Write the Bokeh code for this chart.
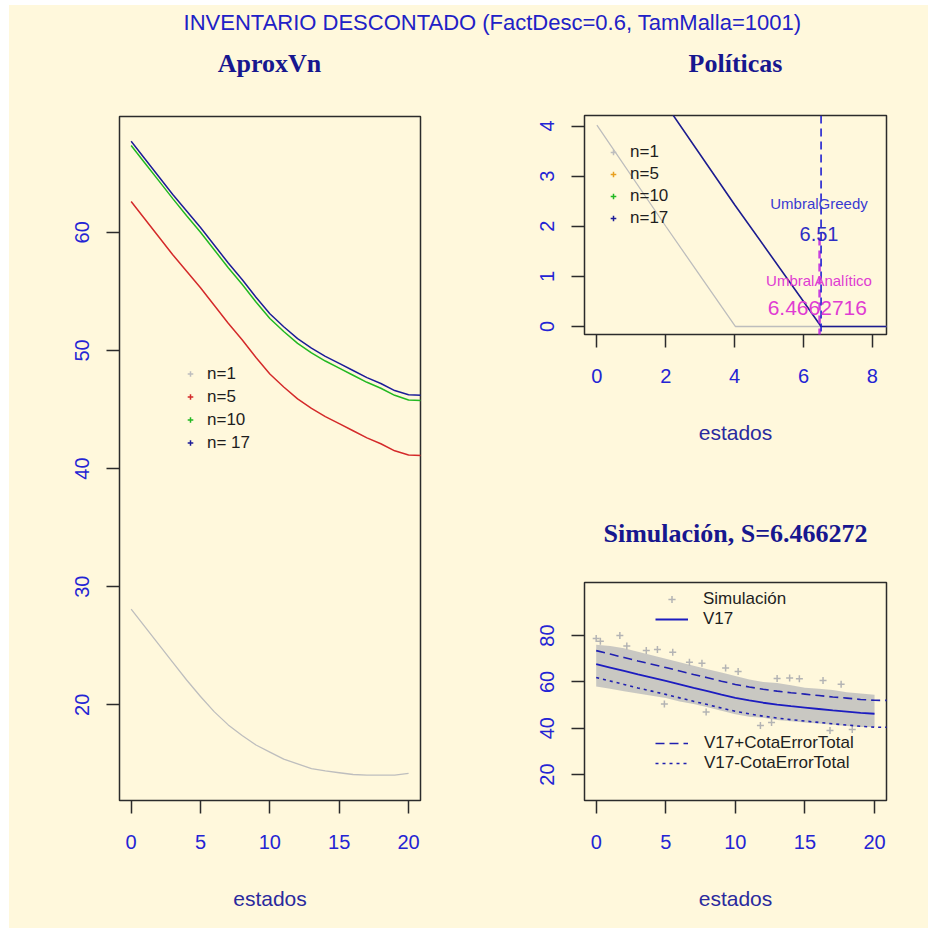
from bokeh.plotting import figure
from bokeh.layouts import row, column
from bokeh.models import (Label, Legend, LegendItem, FixedTicker, Spacer,
                          Range1d, Span)
from bokeh.embed import file_html
from bokeh.resources import INLINE

# ---------------- data ----------------
estados = list(range(22))            # 0..21 grid used for V5/V10/V17
estados_v1 = list(range(21))         # 0..20
v1 = [28.1, 26.6, 25.1, 23.6, 22.1, 20.7, 19.4, 18.3, 17.4, 16.6, 16.0,
      15.4, 15.0, 14.6, 14.4, 14.25, 14.1, 14.05, 14.05, 14.05, 14.2]
v5 = [62.6, 61.1, 59.6, 58.1, 56.7, 55.3, 53.8, 52.3, 50.9, 49.4, 48.0,
      46.9, 45.9, 45.1, 44.4, 43.8, 43.2, 42.6, 42.1, 41.5, 41.15, 41.1]
v10 = [67.35, 65.85, 64.35, 62.85, 61.4, 60.0, 58.5, 57.0, 55.6, 54.1, 52.7,
       51.6, 50.6, 49.8, 49.1, 48.5, 47.9, 47.3, 46.8, 46.2, 45.8, 45.75]
v17 = [67.7, 66.2, 64.7, 63.2, 61.8, 60.4, 58.9, 57.4, 56.0, 54.5, 53.1,
       52.0, 51.0, 50.2, 49.5, 48.9, 48.3, 47.7, 47.2, 46.6, 46.25, 46.2]

# policies
pol1_x = [0.0, 2.0, 4.02, 8.6]
pol1_y = [4.02, 2.0, 0.0, 0.0]
pol17_x = [0.0, 2.0, 4.0, 6.0, 6.51, 8.6]
pol17_y = [6.45, 4.43, 2.43, 0.5, 0.0, 0.0]
umbral_greedy = 6.51
umbral_analitico = 6.4662716
analitico_seg_y = [-0.2, 1.8]

# simulation (dense band envelope + scattered outliers)
sim_x = list(range(21))
sim_upper = [76.0, 75.5, 74.5, 73.0, 71.5, 70.0, 68.5, 67.0, 65.5, 64.0, 62.5,
             61.0, 60.0, 59.5, 58.5, 57.5, 57.0, 56.5, 55.5, 55.0, 54.5]
sim_lower = [58.0, 57.0, 56.0, 55.0, 54.0, 53.0, 51.5, 50.5, 49.0, 47.5, 46.0,
             45.0, 44.5, 43.5, 43.0, 42.5, 42.0, 41.5, 41.0, 40.5, 40.5]
out_x = [0.0, 0.3, 1.7, 2.2, 3.6, 4.4, 5.5, 6.7, 7.6, 9.3, 10.2, 13.0, 13.9,
         14.6, 16.3, 17.6, 4.9, 7.9, 11.8, 12.6, 16.8, 18.4]
out_y = [78.7, 77.5, 80.0, 75.5, 73.5, 74.0, 72.8, 68.5, 68.0, 66.0, 64.5,
         61.5, 61.7, 61.3, 60.6, 59.0, 50.5, 47.0, 41.2, 42.5, 39.0, 39.5]
cota_error_total = 5.8

ticks_x_vn = [0, 5, 10, 15, 20]
ticks_y_vn = [20, 30, 40, 50, 60]
ticks_x_pol = [0, 2, 4, 6, 8]
ticks_y_pol = [0, 1, 2, 3, 4]
ticks_y_sim = [20, 40, 60, 80]

# ---------------- styles ----------------
BG = "#FFF8DC"
TICK_COL = "#2424d4"
AXLAB_COL = "#2a2a9e"
TITLE_COL = "#17178f"
SANS = "Liberation Sans"
SERIF = "Liberation Serif"


def style(p, xt, yt, xlabel=None):
    p.background_fill_color = BG
    p.border_fill_color = BG
    p.outline_line_color = "#2b2b2b"
    p.outline_line_width = 1.5
    p.xgrid.visible = False
    p.ygrid.visible = False
    p.xaxis.ticker = FixedTicker(ticks=xt)
    p.yaxis.ticker = FixedTicker(ticks=yt)
    p.axis.axis_line_color = None
    p.axis.major_tick_line_color = "#2b2b2b"
    p.axis.major_tick_line_width = 1.5
    p.axis.major_tick_out = 13
    p.axis.major_tick_in = 0
    p.axis.minor_tick_line_color = None
    p.axis.major_label_text_font = SANS
    p.axis.major_label_text_font_size = "20px"
    p.axis.major_label_text_color = TICK_COL
    p.xaxis.major_label_standoff = 21
    p.yaxis.major_label_standoff = 17
    p.yaxis.major_label_orientation = "vertical"
    if xlabel:
        p.xaxis.axis_label = xlabel
        p.xaxis.axis_label_text_font = SANS
        p.xaxis.axis_label_text_font_size = "21px"
        p.xaxis.axis_label_text_font_style = "normal"
        p.xaxis.axis_label_text_color = AXLAB_COL
        p.xaxis.axis_label_standoff = 35


def panel_title(p, x, y, text):
    p.add_layout(Label(x=x, y=y, x_units="screen", y_units="screen", text=text,
                       text_font=SERIF, text_font_size="26px",
                       text_font_style="bold", text_color=TITLE_COL,
                       text_align="center", text_baseline="middle"))


def legend(items, loc, gw, gh, standoff):
    return Legend(items=items, location=loc, border_line_color=None,
                  background_fill_alpha=0, padding=0, margin=0, spacing=0,
                  glyph_width=gw, glyph_height=gh, label_height=gh,
                  label_standoff=standoff, label_text_font=SANS,
                  label_text_font_size="17px", label_text_color="#1e1e1e")


# ---------------- title strip (main title + top panel titles) ----------------
pt = figure(width=919, height=75, output_backend="svg", toolbar_location=None,
            x_axis_type=None, y_axis_type=None, min_border=0,
            x_range=Range1d(0, 1), y_range=Range1d(0, 1))
pt.background_fill_color = BG
pt.border_fill_color = BG
pt.outline_line_color = None
pt.xgrid.visible = False
pt.ygrid.visible = False
pt.add_layout(Label(x=483, y=58, x_units="screen", y_units="screen",
                    text="INVENTARIO DESCONTADO (FactDesc=0.6, TamMalla=1001)",
                    text_font=SANS, text_font_size="22px", text_color="#2121c6",
                    text_align="center", text_baseline="middle"))
panel_title(pt, 260, 17, "AproxVn")
panel_title(pt, 726, 17, "Políticas")

# ---------------- left: AproxVn ----------------
pl = figure(width=455, height=848, output_backend="svg", toolbar_location=None,
            x_range=Range1d(-0.84, 20.86), y_range=Range1d(11.9, 69.8),
            min_border_left=110, min_border_right=44, min_border_top=36,
            min_border_bottom=128)
style(pl, ticks_x_vn, ticks_y_vn, "estados")
series_l = [(estados_v1, v1, "#bebebe", 1.3, "n=1"),
            (estados, v5, "#d42a2a", 1.5, "n=5"),
            (estados, v10, "#22b822", 1.5, "n=10"),
            (estados, v17, "#1c1c98", 1.5, "n= 17")]
items = []
for xs, ys, c, w, lab in series_l:
    pl.line(xs, ys, line_color=c, line_width=w)
    # marker-only renderer (size 0 on the plot) so the legend shows a "+"
    r = pl.scatter(xs, ys, marker="cross", size=0, line_color=c, line_width=1.5)
    items.append(LegendItem(label=lab, renderers=[r]))
pl.add_layout(legend(items, (64, 346), 14, 23, 10))

# ---------------- top right: Politicas ----------------
pr = figure(width=464, height=400, output_backend="svg", toolbar_location=None,
            x_range=Range1d(-0.36, 8.41), y_range=Range1d(-0.16, 4.21),
            min_border_left=120, min_border_right=42, min_border_top=35,
            min_border_bottom=146)
style(pr, ticks_x_pol, ticks_y_pol, "estados")
pr.line(pol1_x, pol1_y, line_color="#bdbdbd", line_width=1.3)
pr.line(pol17_x, pol17_y, line_color="#1c1c90", line_width=1.6)
pr.line([umbral_analitico, umbral_analitico], analitico_seg_y,
        line_color="#c020e0", line_width=2.5, line_dash="8 5", line_alpha=0.85)
pr.add_layout(Span(location=umbral_greedy, dimension="height",
                   line_color="#2020d0", line_width=1.6, line_dash="8 5"))
leg_cols_r = ["#bebebe", "#e8a020", "#22b822", "#1c1c98"]
leg_lab_r = ["n=1", "n=5", "n=10", "n=17"]
items = []
for c, lab in zip(leg_cols_r, leg_lab_r):
    r = pr.scatter(pol17_x, pol17_y, marker="cross", size=0, line_color=c,
                   line_width=1.5)
    items.append(LegendItem(label=lab, renderers=[r]))
pr.add_layout(legend(items, (22, 105), 14, 22, 10))
pr.add_layout(Label(x=6.45, y=2.45, text="UmbralGreedy", text_font=SANS,
                    text_font_size="15px", text_color="#3a3ad2",
                    text_align="center", text_baseline="middle"))
pr.add_layout(Label(x=6.45, y=1.85, text="6.51", text_font=SANS,
                    text_font_size="20px", text_color="#2e2ec4",
                    text_align="center", text_baseline="middle"))
pr.add_layout(Label(x=6.45, y=0.92, text="UmbralAnalítico", text_font=SANS,
                    text_font_size="15px", text_color="#e03cd2",
                    text_align="center", text_baseline="middle"))
pr.add_layout(Label(x=6.4, y=0.36, text="6.4662716", text_font=SANS,
                    text_font_size="21px", text_color="#e03cd2",
                    text_align="center", text_baseline="middle"))

# ---------------- bottom right: Simulacion ----------------
ps = figure(width=464, height=448, output_backend="svg", toolbar_location=None,
            x_range=Range1d(-0.84, 20.86), y_range=Range1d(8.8, 102.9),
            min_border_left=120, min_border_right=42, min_border_top=102,
            min_border_bottom=128)
style(ps, ticks_x_vn, ticks_y_sim, "estados")
ps.title.text = "Simulación, S=6.466272"
ps.title.align = "center"
ps.title.vertical_align = "top"
ps.title.text_font = SERIF
ps.title.text_font_size = "26px"
ps.title.text_font_style = "bold"
ps.title.text_color = TITLE_COL
ps.title.standoff = 66
ps.varea(x=sim_x, y1=sim_lower, y2=sim_upper, fill_color="#bcbcbc", fill_alpha=0.8)
r_sim = ps.scatter(out_x, out_y, marker="cross", size=7, line_color="#b4b4b4",
                   line_width=1.5)
upper = [v + cota_error_total for v in v17]
lower = [v - cota_error_total for v in v17]
r_up = ps.line(estados, upper, line_color="#2020b0", line_width=1.6, line_dash="9 5")
r_lo = ps.line(estados, lower, line_color="#2020b0", line_width=1.6, line_dash="3 4")
r_v17 = ps.line(estados[:21], v17[:21], line_color="#1c1cc0", line_width=1.8)
ps.add_layout(legend([LegendItem(label="Simulación", renderers=[r_sim]),
                      LegendItem(label="V17", renderers=[r_v17])],
                     (71, 171), 33, 18, 15))
ps.add_layout(legend([LegendItem(label="V17+CotaErrorTotal", renderers=[r_up]),
                      LegendItem(label="V17-CotaErrorTotal", renderers=[r_lo])],
                     (71, 27), 33, 20, 16))

cream = {"background-color": BG}
inner = column(pt, row(pl, column(pr, ps, styles=cream), styles=cream), styles=cream)
layout = column(Spacer(height=5), row(Spacer(width=9), inner))

open("out.html", "w").write(file_html(layout, INLINE))
